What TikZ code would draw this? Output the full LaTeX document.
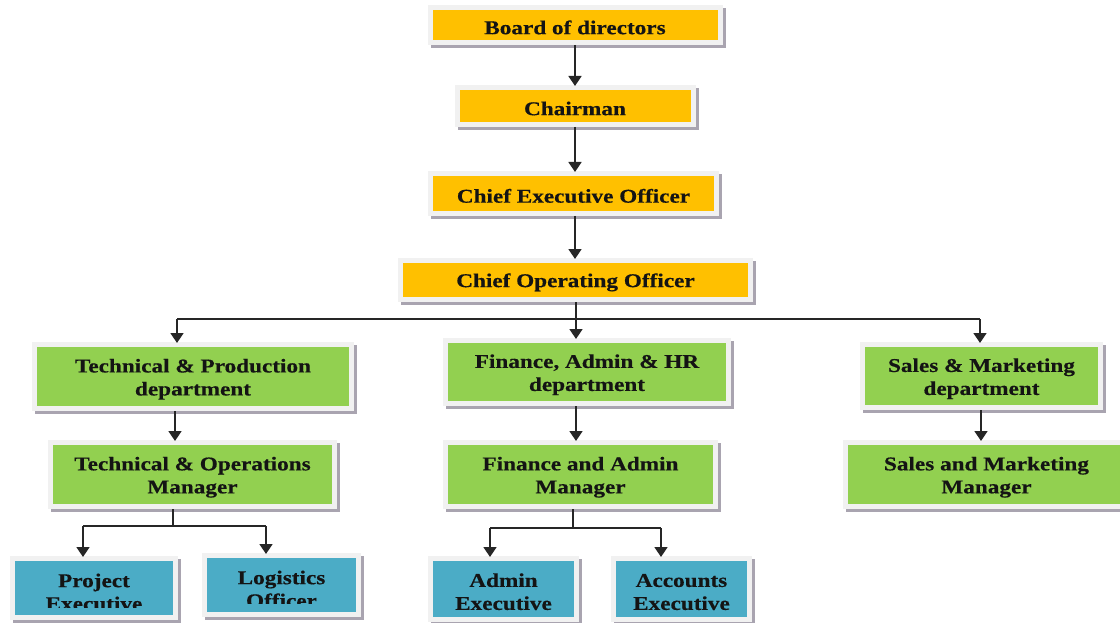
\documentclass[tikz,border=0pt]{standalone}
\usepackage{fontspec}
\setmainfont[FakeStretch=1.19, BoldFeatures={FakeBold=0.4}]{Liberation Serif}
\usetikzlibrary{arrows.meta,calc}

\definecolor{execorange}{HTML}{FFC000}
\definecolor{deptgreen}{HTML}{92D050}
\definecolor{staffblue}{HTML}{4BACC6}
\definecolor{framegray}{HTML}{F1F1F1}
\definecolor{shadowgray}{HTML}{A9A4B0}
\definecolor{linkgray}{HTML}{262626}

% tall strut opening a two-line title, so that the block sits a little low
\newcommand{\lowtop}{\rule{0pt}{19pt}}

\tikzset{
  orgbox/.style={
    rectangle, inner sep=0pt, outer sep=5pt, align=center,
    font=\bfseries\fontsize{19.5}{23}\selectfont, text=black!92,
    execute at begin node={\rule{0pt}{18.5pt}},
    preaction={draw=shadowgray, fill=shadowgray, line width=10pt,
               transform canvas={shift={(3pt,-3pt)}}},
    preaction={draw=framegray, line width=10pt},
    fill=#1},
  boxtext/.style={inner sep=0pt, align=center,
    font=\bfseries\fontsize{19.5}{23}\selectfont, text=black!92},
  link/.style={draw=linkgray, line width=1.6pt},
  arr/.style={link, -{Triangle[width=13pt,length=10pt]}, shorten >=-1pt}
}

\begin{document}
\begin{tikzpicture}[x=1pt, y=-1pt]
\useasboundingbox (0,0) rectangle (1120,623);
\fill[white] (0,0) rectangle (1120,623);

% executive chain
\node[orgbox=execorange, minimum width=285pt, minimum height=30pt] (board) at (575,25) {Board of directors};
\node[orgbox=execorange, minimum width=231pt, minimum height=32pt] (chair) at (575,106) {Chairman};
\node[orgbox=execorange, minimum width=281pt, minimum height=35pt] (ceo) at (573.5,193.5) {Chief Executive Officer};
\node[orgbox=execorange, minimum width=345pt, minimum height=34pt] (coo) at (575.5,280) {Chief Operating Officer};

% departments
\node[orgbox=deptgreen, minimum width=312pt, minimum height=59pt] (tpd) at (193,376.5) {\lowtop Technical \& Production\\department};
\node[orgbox=deptgreen, minimum width=278pt, minimum height=58pt] (fahr) at (587,372) {\lowtop Finance, Admin \& HR\\department};
\node[orgbox=deptgreen, minimum width=233pt, minimum height=58pt] (smd) at (981.5,376) {\lowtop Sales \& Marketing\\department};

% managers
\node[orgbox=deptgreen, minimum width=279pt, minimum height=59pt] (tom) at (192.5,474.5) {\lowtop Technical \& Operations\\Manager};
\node[orgbox=deptgreen, minimum width=265pt, minimum height=59pt] (fam) at (580.5,474.5) {\lowtop Finance and Admin\\Manager};
\node[orgbox=deptgreen, minimum width=277pt, minimum height=59pt] (smm) at (986.5,474.5) {\lowtop Sales and Marketing\\Manager};

% staff
\node[orgbox=staffblue, minimum width=158pt, minimum height=54pt] (pe) at (94,588) {};
\node[orgbox=staffblue, minimum width=149pt, minimum height=54pt] (lo) at (281.5,585) {};
\node[orgbox=staffblue, minimum width=141pt, minimum height=56pt] (ae) at (503.5,589) {\lowtop Admin\\Executive};
\node[orgbox=staffblue, minimum width=131pt, minimum height=56pt] (acc) at (681.5,589) {\lowtop Accounts\\Executive};

% staff titles that run past their text area
\begin{scope}
  \clip (15,561) rectangle (173,607);
  \node[boxtext] (pe-title) at (94,592) {Project\\Executive};
\end{scope}
\begin{scope}
  \clip (207,558) rectangle (356,603.5);
  \node[boxtext] (lo-title) at (281.5,589) {Logistics\\Officer};
\end{scope}

% reporting lines
\draw[arr] (board.south) -- (board.south |- chair.north);
\draw[arr] (chair.south) -- (chair.south |- ceo.north);
\draw[arr] (ceo.south -| 575,0) -- (575,258);
\coordinate (busM) at (576,319);
\coordinate (busL) at (177,319);
\coordinate (busR) at (980,319);
\draw[link] (coo.south -| busM) -- (busM);
\draw[link] (busL) -- (busR);
\draw[arr] (busL) -- (busL |- tpd.north);
\draw[arr] (busM) -- (busM |- fahr.north);
\draw[arr] (busR) -- (busR |- smd.north);

\coordinate (tpdout) at (175,411);
\coordinate (fahrout) at (576,406);
\coordinate (smdout) at (981,410);
\draw[arr] (tpdout) -- (tpdout |- tom.north);
\draw[arr] (fahrout) -- (fahrout |- fam.north);
\draw[arr] (smdout) -- (smdout |- smm.north);

\coordinate (tomhub) at (173,526);
\coordinate (famhub) at (573,528);
\draw[link] (tom.south -| tomhub) -- (tomhub);
\draw[link] (tomhub -| 83,0) -- (tomhub -| 266,0);
\draw[arr] (tomhub -| 83,0) -- (83,556);
\draw[arr] (tomhub -| 266,0) -- (266,553);
\draw[link] (fam.south -| famhub) -- (famhub);
\draw[link] (famhub -| 490,0) -- (famhub -| 661,0);
\draw[arr] (famhub -| 490,0) -- (490,556);
\draw[arr] (famhub -| 661,0) -- (661,556);
\end{tikzpicture}
\end{document}
